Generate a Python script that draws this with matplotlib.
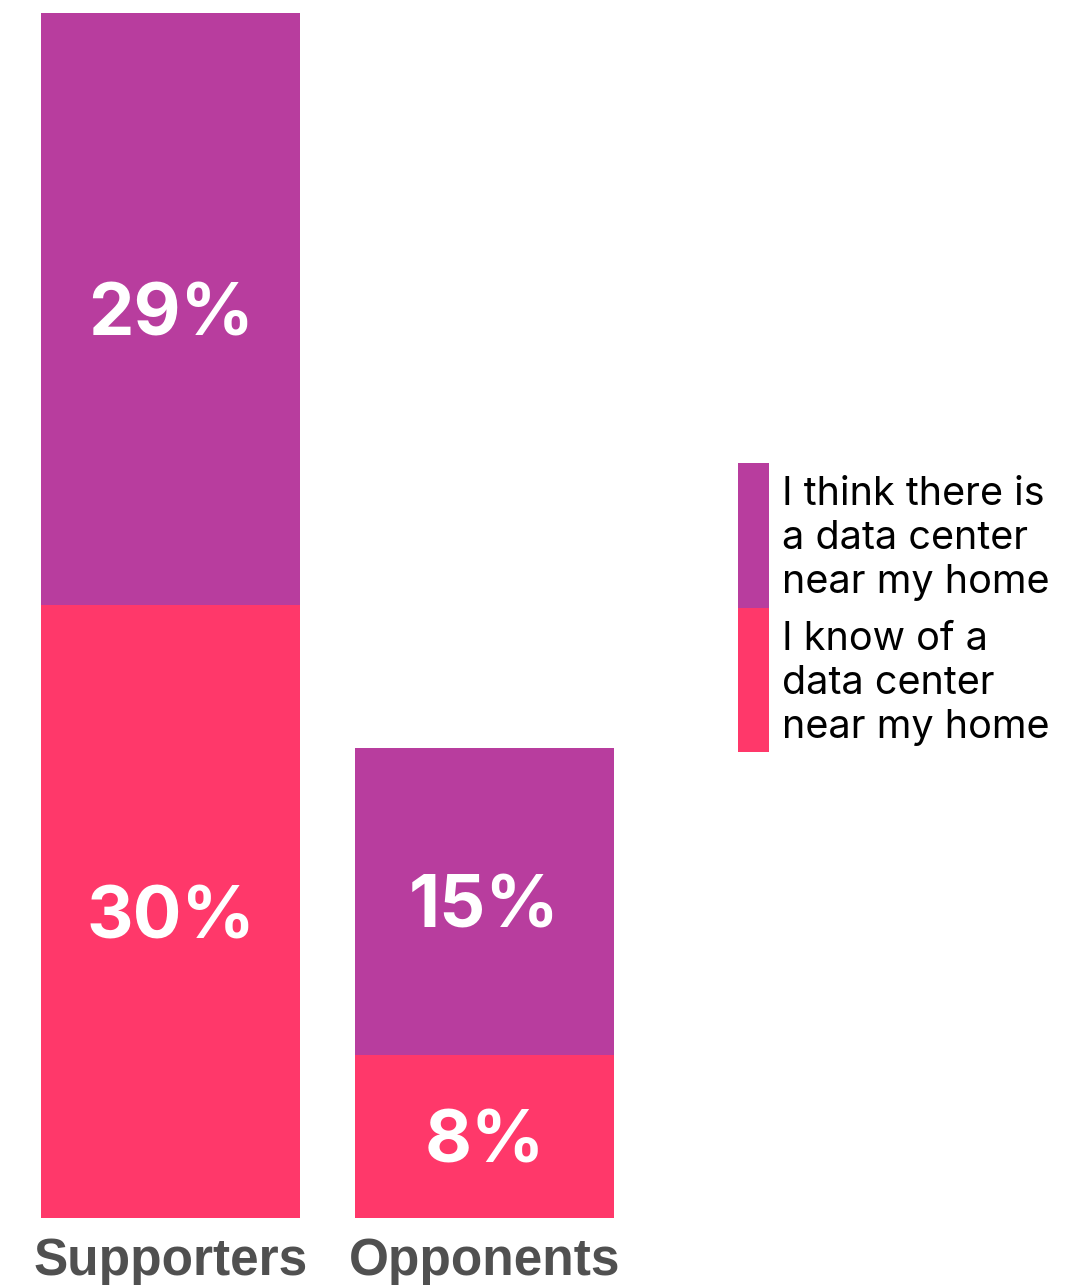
import matplotlib as mpl
import matplotlib.pyplot as plt
import numpy as np
from matplotlib.patches import Rectangle

# survey shares (%) by group
groups = ["Supporters", "Opponents"]
know_of = [30, 8]
think_there_is = [29, 15]
series_labels = [["I think there is", "a data center", "near my home"],
                 ["I know of a", "data center", "near my home"]]

PURPLE = "#B83D9E"
PINK = "#FF386A"
GREY = "#505050"

mpl.rcParams.update({
    "font.family": ["Liberation Sans", "DejaVu Sans"],
})

W, H = 1076, 1285
fig = plt.figure(figsize=(W / 100, H / 100), dpi=100)
# axes box in pixels: bars span x 41..614, y 13..1218 (top-down)
ax = fig.add_axes([41 / W, (H - 1218) / H, (614 - 41) / W, (1218 - 13) / H])

x = np.arange(len(groups))
width = 0.825
bottom = ax.bar(x, know_of, width=width, color=PINK, linewidth=0)
top = ax.bar(x, think_there_is, width=width, bottom=know_of, color=PURPLE, linewidth=0)

for bars, vals, base in [(bottom, know_of, [0, 0]), (top, think_there_is, know_of)]:
    for b, v, b0 in zip(bars, vals, base):
        ax.text(b.get_x() + b.get_width() / 2, b0 + v / 2, f"{v}%",
                ha="center", va="center_baseline", color="white",
                fontsize=52, fontweight="bold",
                family=["Inter", "DejaVu Sans"])

ax.set_xlim(-width / 2, len(groups) - 1 + width / 2)
ax.set_ylim(0, max(a + b for a, b in zip(know_of, think_there_is)))
ax.set_xticks(x)
ax.set_xticklabels(groups, fontsize=37, fontweight="bold", color=GREY)
ax.tick_params(axis="x", length=0, pad=14)
ax.set_yticks([])
for s in ax.spines.values():
    s.set_visible(False)

# legend: tall swatches stacked with wrapped labels beside them
def px(xp, yp):
    return xp / W, (H - yp) / H

sw_x, sw_w, sw_h = 738, 31, 144.5
for i, (col, lines) in enumerate(zip([PURPLE, PINK], series_labels)):
    y_top = 463 + i * sw_h
    x0, y0 = px(sw_x, y_top + sw_h)
    fig.add_artist(Rectangle((x0, y0), sw_w / W, sw_h / H,
                             transform=fig.transFigure, color=col, linewidth=0))
    for j, line in enumerate(lines):
        tx, ty = px(782, y_top + 42 + j * 44)
        fig.text(tx, ty, line, ha="left", va="baseline", color="black",
                 fontsize=28.5, family=["Inter", "DejaVu Sans"])

fig.savefig("out.png", dpi=100)
